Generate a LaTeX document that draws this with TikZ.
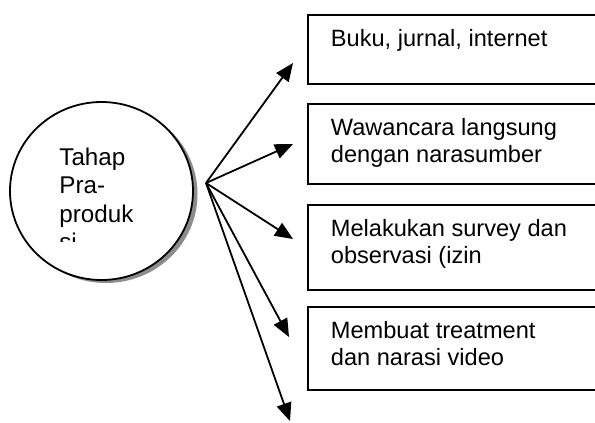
\documentclass[tikz,border=0pt]{standalone}
\usepackage{fontspec}
\setmainfont{Liberation Sans}
\usetikzlibrary{shapes.geometric,arrows.meta}

\begin{document}
\begin{tikzpicture}[x=0.5pt, y=-0.5pt, >={Triangle[length=9pt,width=7.5pt]},
    langkah/.style={rectangle, draw, line width=0.9pt, anchor=north west, align=flush left, text width=150pt, inner xsep=11.5pt, inner ysep=0pt, text height=16pt, font=\fontsize{11.8pt}{13.25pt}\selectfont},
    panah/.style={->, line width=0.9pt}]
    \useasboundingbox (0,0) rectangle (595,423);
    \clip (0,0) rectangle (595,423);
    % lingkaran tahap
    \fill[gray!90] (106,194) ellipse [x radius=91.5, y radius=89];
    \node[ellipse, draw, fill=white, line width=0.9pt, minimum width=91.5pt, minimum height=89pt] (tahap) at (101.5,191) {};
    \begin{scope}
        \clip (0,0) rectangle (200,241);
        \node[anchor=north west, align=flush left, text width=60pt, inner sep=0pt, text height=0pt, font=\fontsize{12.1pt}{14.2pt}\selectfont] (judul) at (59,165) {Tahap\\Pra-\\produk\\si};
    \end{scope}
    % kotak kegiatan
    \node[langkah, text depth=18.5pt] (sumber) at (307,14) {Buku, jurnal, internet};
    \node[langkah, text depth=24pt] (wawancara) at (307,103) {Wawancara langsung\\dengan narasumber};
    \node[langkah, text depth=26.5pt] (survei) at (307,204) {Melakukan survey dan\\observasi (izin};
    \node[langkah, text depth=25.5pt] (naskah) at (307,306) {Membuat treatment\\dan narasi video};
    % panah
    \coordinate (pangkal) at (206,183);
    \coordinate (ke sumber) at (293,63);
    \coordinate (ke wawancara) at (293,144);
    \coordinate (ke survei) at (293,239);
    \coordinate (ke naskah) at (289,337);
    \coordinate (ke bawah) at (290,421);
    \draw[panah] (pangkal) -- (ke sumber);
    \draw[panah] (pangkal) -- (ke wawancara);
    \draw[panah] (pangkal) -- (ke survei);
    \draw[panah] (pangkal) -- (ke naskah);
    \draw[panah] (pangkal) -- (ke bawah);
\end{tikzpicture}
\end{document}
